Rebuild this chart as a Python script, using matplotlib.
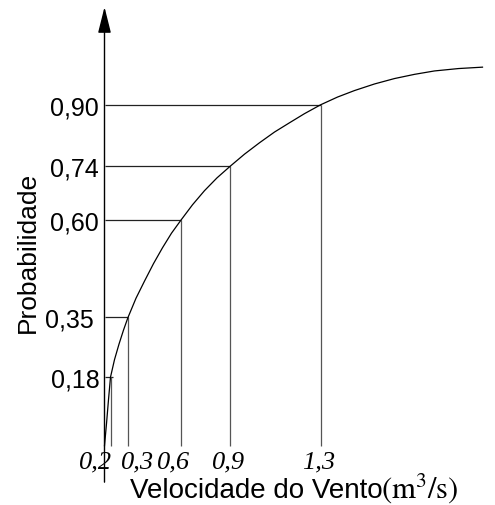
import matplotlib
matplotlib.use("Agg")
import matplotlib.pyplot as plt

plt.rcParams['mathtext.fontset'] = 'stix'

# Schematic curve (positions on a non-proportional x scale, probability on y)
curve_x = [0.0, 0.02, 0.04, 0.06, 0.10, 0.145, 0.19, 0.235, 0.315, 0.40,
           0.49, 0.58, 0.67, 0.765, 0.88, 1.00, 1.125, 1.255, 1.40, 1.55,
           1.70, 1.85, 2.00, 2.162, 2.33, 2.50, 2.70, 2.90, 3.10, 3.30,
           3.54, 3.78]
curve_y = [0.0, 0.058, 0.1215, 0.181, 0.2272, 0.2682, 0.3052, 0.3387, 0.3894,
           0.4346, 0.4808, 0.5227, 0.5612, 0.5958, 0.6362, 0.6735, 0.7073,
           0.7376, 0.7699, 0.800, 0.8283, 0.8528, 0.8769, 0.9004, 0.9207,
           0.9379, 0.9553, 0.9696, 0.9807, 0.9897, 0.9960, 0.9997]

# Marked points
speed_labels = ["0,2", "0,3", "0,6", "0,9", "1,3"]
prob_labels = ["0,18", "0,35", "0,60", "0,74", "0,90"]
point_x = [0.06, 0.235, 0.765, 1.255, 2.162]
point_y = [0.181, 0.3387, 0.5958, 0.7376, 0.9004]
hline_end = [0.085, 0.235, 0.765, 1.255, 2.162]

# label placement
xlab_pos = [-0.092, 0.328, 0.695, 1.245, 2.145]
ylab_pos = [-0.045, -0.105, -0.055, -0.055, -0.055]

fig = plt.figure(figsize=(4.95, 5.06), dpi=100)
ax = fig.add_axes([0, 0, 1, 1])
ax.set_xlim(-1.045, 3.905)
ax.set_ylim(-0.1567, 1.1797)
ax.axis('off')

# axes with arrows
ax.annotate('', xy=(3.975, 0), xytext=(-0.375, 0),
            arrowprops=dict(arrowstyle='-|>,head_length=0.8,head_width=0.27',
                            mutation_scale=20, lw=1.0, color='black',
                            shrinkA=0, shrinkB=0))
ax.annotate('', xy=(0, 1.1585), xytext=(0, -0.0964),
            arrowprops=dict(arrowstyle='-|>,head_length=0.8,head_width=0.2',
                            mutation_scale=20, lw=1.0, color='black',
                            shrinkA=0, shrinkB=0))

# guide lines
for px, py, he in zip(point_x, point_y, hline_end):
    ax.plot([0, he], [py, py], color='#222222', lw=0.9, solid_capstyle='butt')
    ax.plot([px, px], [0, py], color='#555555', lw=0.9, solid_capstyle='butt')

# curve
ax.plot(curve_x, curve_y, color='black', lw=0.9, solid_joinstyle='round')

# tick labels
for lab, xp in zip(speed_labels, xlab_pos):
    ax.text(xp, -0.0423, lab, ha='center', va='center', fontsize=19,
            family='Liberation Serif', style='italic')
for lab, xp, yp in zip(prob_labels, ylab_pos, point_y):
    ax.text(xp, yp, lab, ha='right', va='center_baseline', fontsize=18,
            family='Liberation Sans')

# axis titles
ax.text(0.255, -0.135, "Velocidade do Vento", ha='left', va='baseline',
        fontsize=20, family='Liberation Sans')
ax.text(2.765, -0.135, r"$(\mathrm{m}^3/\mathrm{s})$", ha='left',
        va='baseline', fontsize=22)
ax.text(-0.77, 0.5125, "Probabilidade", rotation=90, ha='center', va='center',
        fontsize=19, family='Liberation Sans')

fig.savefig('out.png', dpi=100)
